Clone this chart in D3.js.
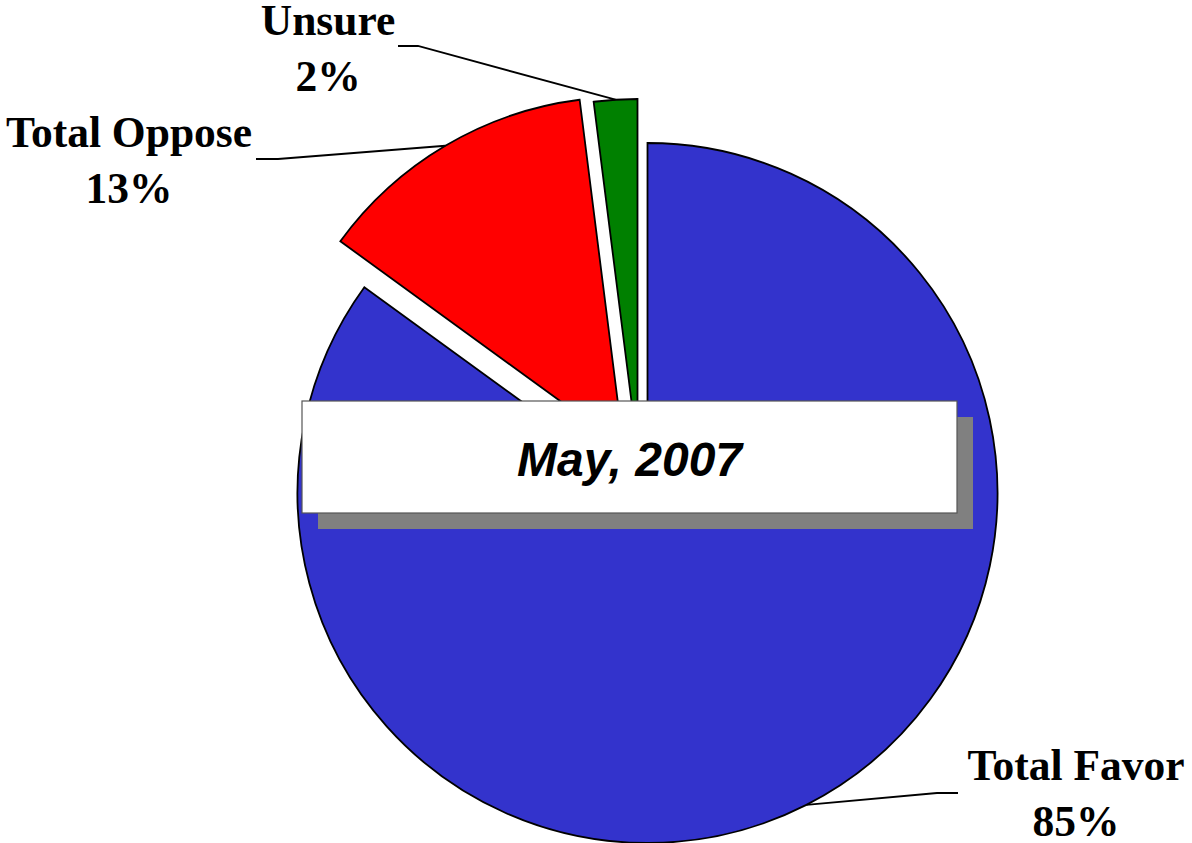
<!DOCTYPE html>
<html>
<head>
<meta charset="utf-8">
<script src="https://cdn.jsdelivr.net/npm/d3@7"></script>
<style>
  html, body { margin: 0; padding: 0; background: #fff; }
  svg { display: block; }
</style>
</head>
<body>
<div id="chart"></div>
<script>
// data
const categories = ["Total Favor", "Total Oppose", "Unsure"];
const values = [85, 13, 2];
const colors = ["#3333CC", "#FF0000", "#008000"];
const title = "May, 2007";

// layout
const width = 1192, height = 843;
const cx = 647.5, cy = 493, radius = 350;
// exploded slices pulled out of the pie (dx, dy)
const explode = [[0, 0], [-24, -46], [-10, -44]];
// label block centre x / first baseline, and where the leader line starts
const labelPos = [
  { x: 1076, y: 780, line: [[958, 793], [937, 793]] },
  { x: 129, y: 147, line: [[256, 159], [278, 159]] },
  { x: 328, y: 35, line: [[398, 46], [418, 46]] }
];

const svg = d3.select("#chart").append("svg")
  .attr("xmlns", "http://www.w3.org/2000/svg")
  .attr("width", width)
  .attr("height", height);

const pie = d3.pie().sort(null).value(d => d.value);
const arcs = pie(categories.map((c, i) => ({ name: c, value: values[i], i: i })));

const arc = d3.arc().innerRadius(0).outerRadius(radius);

const g = svg.append("g").attr("transform", `translate(${cx},${cy})`);

g.selectAll("path.slice")
  .data(arcs).enter()
  .append("path")
  .attr("class", "slice")
  .attr("transform", d => `translate(${explode[d.data.i][0]},${explode[d.data.i][1]})`)
  .attr("d", arc)
  .attr("fill", d => colors[d.data.i])
  .attr("stroke", "#000")
  .attr("stroke-width", 1.8)
  .attr("stroke-linejoin", "miter");

// leader lines from the labels to the middle of each slice's arc
const lineGen = d3.line();
svg.selectAll("path.leader")
  .data(arcs).enter()
  .append("path")
  .attr("class", "leader")
  .attr("d", d => {
    const a = (d.startAngle + d.endAngle) / 2;
    const ex = cx + explode[d.data.i][0] + radius * Math.sin(a);
    const ey = cy + explode[d.data.i][1] - radius * Math.cos(a);
    const p = labelPos[d.data.i].line;
    return lineGen([p[0], p[1], [ex, ey]]);
  })
  .attr("fill", "none")
  .attr("stroke", "#000")
  .attr("stroke-width", 1.8);

// labels
const labels = svg.selectAll("text.label")
  .data(arcs).enter()
  .append("text")
  .attr("class", "label")
  .attr("text-anchor", "middle")
  .attr("font-family", "'Liberation Serif', 'Times New Roman', serif")
  .attr("font-weight", "bold")
  .attr("font-size", 43.5)
  .attr("fill", "#000");

labels.append("tspan")
  .attr("x", d => labelPos[d.data.i].x)
  .attr("y", d => labelPos[d.data.i].y)
  .text(d => d.data.name);

labels.append("tspan")
  .attr("x", d => labelPos[d.data.i].x)
  .attr("y", d => labelPos[d.data.i].y + 56)
  .text(d => d.data.value + "%");

// title box with shadow
const box = { x: 302, y: 401, w: 655, h: 112 };
svg.append("rect")
  .attr("x", box.x + 16).attr("y", box.y + 16)
  .attr("width", box.w).attr("height", box.h)
  .attr("fill", "#808080");
svg.append("rect")
  .attr("x", box.x).attr("y", box.y)
  .attr("width", box.w).attr("height", box.h)
  .attr("fill", "#fff")
  .attr("stroke", "#555")
  .attr("stroke-width", 1.2);
svg.append("text")
  .attr("x", box.x + box.w / 2)
  .attr("y", 476)
  .attr("text-anchor", "middle")
  .attr("font-family", "'Liberation Sans', Arial, sans-serif")
  .attr("font-weight", "bold")
  .attr("font-style", "italic")
  .attr("font-size", 48)
  .attr("fill", "#000")
  .text(title);
</script>
</body>
</html>
